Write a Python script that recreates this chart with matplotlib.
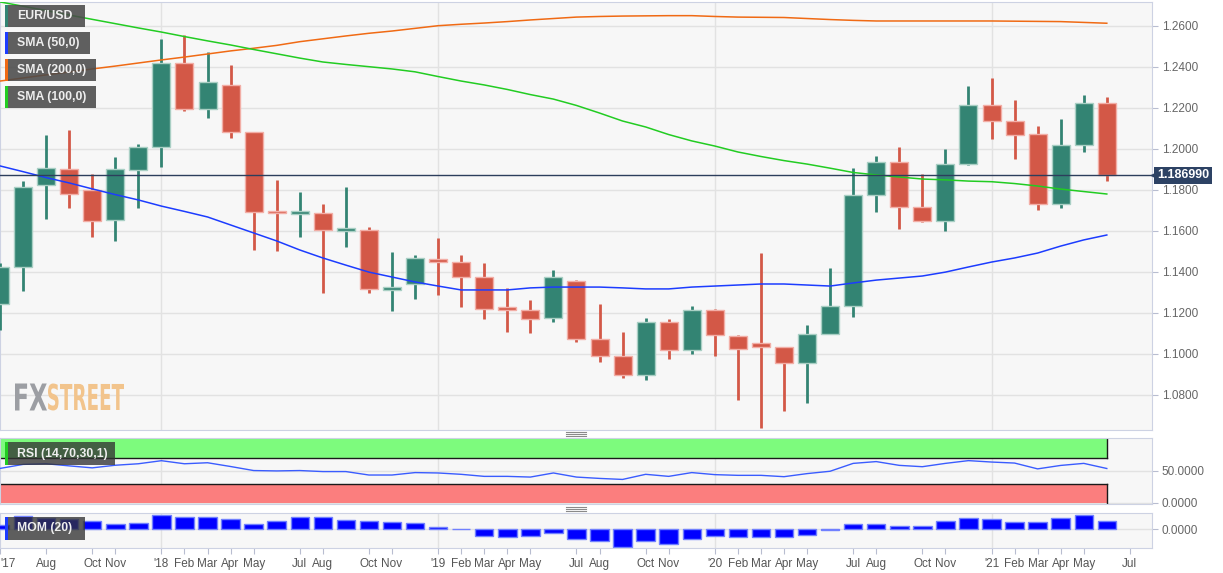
import matplotlib
matplotlib.use('Agg')
import matplotlib.pyplot as plt
from matplotlib.patches import Rectangle, PathPatch
from matplotlib.lines import Line2D
from matplotlib.textpath import TextPath
from matplotlib.font_manager import FontProperties
from matplotlib.transforms import Affine2D

plt.rcParams['font.family'] = ['Liberation Sans', 'DejaVu Sans']

# monthly EUR/USD, Jun 2017 .. Jun 2021
month_labels = ["'17", "", "Aug", "", "Oct", "Nov", "", "'18", "Feb", "Mar", "Apr", "May", "",
                "Jul", "Aug", "", "Oct", "Nov", "", "'19", "Feb", "Mar", "Apr", "May", "",
                "Jul", "Aug", "", "Oct", "Nov", "", "'20", "Feb", "Mar", "Apr", "May", "",
                "Jul", "Aug", "", "Oct", "Nov", "", "'21", "Feb", "Mar", "Apr", "May", "", "Jul"]

opens = [1.1241, 1.1421, 1.1823, 1.1901, 1.1799, 1.1651, 1.1898, 1.2010, 1.2416, 1.2192,
         1.2312, 1.2080, 1.1690, 1.1683, 1.1688, 1.1600, 1.1603, 1.1312, 1.1340, 1.1460,
         1.1446, 1.1373, 1.1219, 1.1213, 1.1173, 1.1356, 1.1070, 1.0989, 1.0898, 1.1155,
         1.1016, 1.1213, 1.1086, 1.1050, 1.1031, 1.0953, 1.1095, 1.1233, 1.1776, 1.1935,
         1.1717, 1.1646, 1.1925, 1.2215, 1.2137, 1.2073, 1.1730, 1.2018, 1.2225]
highs = [1.1441, 1.1843, 1.2067, 1.2091, 1.1877, 1.1960, 1.2023, 1.2535, 1.2554, 1.2470,
         1.2408, 1.2083, 1.1847, 1.1787, 1.1730, 1.1813, 1.1616, 1.1495, 1.1482, 1.1564,
         1.1482, 1.1441, 1.1320, 1.1262, 1.1408, 1.1359, 1.1243, 1.1106, 1.1176, 1.1170,
         1.1233, 1.1220, 1.1090, 1.1490, 1.1034, 1.1140, 1.1420, 1.1904, 1.1964, 1.2008,
         1.1877, 1.1999, 1.2306, 1.2345, 1.2238, 1.2111, 1.2145, 1.2262, 1.2252]
lows = [1.1116, 1.1307, 1.1657, 1.1712, 1.1571, 1.1551, 1.1712, 1.1912, 1.2185, 1.2151,
        1.2054, 1.1506, 1.1503, 1.1571, 1.1298, 1.1522, 1.1298, 1.1210, 1.1267, 1.1288,
        1.1229, 1.1169, 1.1106, 1.1103, 1.1155, 1.1059, 1.0961, 1.0883, 1.0872, 1.0974,
        1.0998, 1.0988, 1.0774, 1.0636, 1.0722, 1.0761, 1.1095, 1.1181, 1.1693, 1.1610,
        1.1640, 1.1600, 1.1922, 1.2049, 1.1950, 1.1701, 1.1712, 1.1986, 1.1842]
closes = [1.1425, 1.1815, 1.1904, 1.1777, 1.1647, 1.1899, 1.2010, 1.2416, 1.2192, 1.2324,
          1.2080, 1.1690, 1.1686, 1.1688, 1.1602, 1.1603, 1.1314, 1.1316, 1.1465, 1.1447,
          1.1373, 1.1216, 1.1215, 1.1168, 1.1373, 1.1070, 1.0989, 1.0898, 1.1155, 1.1016,
          1.1213, 1.1090, 1.1025, 1.1031, 1.0953, 1.1095, 1.1233, 1.1776, 1.1935, 1.1717,
          1.1646, 1.1925, 1.2215, 1.2135, 1.2065, 1.1730, 1.2018, 1.2225, 1.18699]

sma50 = [1.1916, 1.1888, 1.1859, 1.1833, 1.1804, 1.1776, 1.1750, 1.1720, 1.1694, 1.1667,
         1.1628, 1.1589, 1.1550, 1.1506, 1.1467, 1.1432, 1.1398, 1.1374, 1.1350, 1.1330,
         1.1311, 1.1311, 1.1311, 1.1321, 1.1325, 1.1325, 1.1325, 1.1321, 1.1316, 1.1316,
         1.1325, 1.1330, 1.1335, 1.1340, 1.1340, 1.1335, 1.1330, 1.1345, 1.1359, 1.1369,
         1.1379, 1.1398, 1.1423, 1.1447, 1.1467, 1.1491, 1.1525, 1.1555, 1.1579]
sma100 = [1.2716, 1.2695, 1.2674, 1.2652, 1.2631, 1.2610, 1.2589, 1.2569, 1.2547, 1.2526,
          1.2506, 1.2484, 1.2463, 1.2442, 1.2423, 1.2411, 1.2400, 1.2389, 1.2375, 1.2352,
          1.2330, 1.2311, 1.2289, 1.2264, 1.2242, 1.2211, 1.2174, 1.2135, 1.2106, 1.2069,
          1.2038, 1.2013, 1.1984, 1.1962, 1.1942, 1.1925, 1.1905, 1.1884, 1.1872, 1.1862,
          1.1852, 1.1848, 1.1842, 1.1839, 1.1830, 1.1818, 1.1803, 1.1791, 1.1779]
sma200 = [1.2330, 1.2345, 1.2360, 1.2374, 1.2389, 1.2403, 1.2418, 1.2433, 1.2447, 1.2462,
          1.2477, 1.2490, 1.2504, 1.2522, 1.2536, 1.2550, 1.2563, 1.2574, 1.2587, 1.2600,
          1.2607, 1.2613, 1.2620, 1.2628, 1.2635, 1.2642, 1.2645, 1.2647, 1.2648, 1.2649,
          1.2649, 1.2645, 1.2642, 1.2641, 1.2640, 1.2635, 1.2630, 1.2626, 1.2623, 1.2623,
          1.2623, 1.2623, 1.2623, 1.2623, 1.2622, 1.2621, 1.2620, 1.2616, 1.2612]

rsi = [54.0, 60.3, 61.3, 58.0, 54.9, 59.0, 61.3, 66.1, 61.3, 62.9,
       57.0, 50.7, 50.1, 50.7, 49.1, 49.1, 43.7, 43.7, 47.5, 46.9,
       44.8, 41.6, 41.6, 40.5, 46.9, 40.5, 38.4, 36.8, 44.8, 41.6,
       47.5, 44.3, 43.2, 43.2, 41.1, 45.9, 49.6, 61.9, 64.7, 58.8,
       56.7, 61.9, 66.2, 64.0, 62.4, 53.3, 58.7, 61.9, 53.9]

mom = [0.035, 0.124, 0.105, 0.098, 0.079, 0.051, 0.054, 0.130, 0.111, 0.114,
       0.092, 0.044, 0.073, 0.111, 0.108, 0.082, 0.076, 0.067, 0.054, 0.019,
       -0.003, -0.067, -0.076, -0.067, -0.032, -0.092, -0.108, -0.162, -0.108, -0.136,
       -0.092, -0.067, -0.073, -0.073, -0.073, -0.054, -0.006, 0.044, 0.048, 0.025,
       0.025, 0.073, 0.101, 0.098, 0.070, 0.067, 0.105, 0.133, 0.076]

price_ticks = [1.08, 1.10, 1.12, 1.14, 1.16, 1.18, 1.20, 1.22, 1.24, 1.26]
last_price = 1.186990

W, H = 1223, 573
fig = plt.figure(figsize=(W / 100, H / 100), dpi=100)
fig.patch.set_facecolor('white')


def fy(y):
    return 1 - y / H


GREEN, RED = '#338473', '#d35847'
GRID = '#e2e2e2'
SPINE = '#cdd2e3'
xmax = 49.96

ax = fig.add_axes([0, fy(430), 1152 / W, (430 - 2) / H])
ax_rsi = fig.add_axes([0, fy(504), 1152 / W, (504 - 437.6) / H])
ax_mom = fig.add_axes([0, fy(548), 1152 / W, (548 - 513) / H])

n = len(closes)
years = [i for i, s in enumerate(month_labels) if s.startswith("'") and i > 0]

for a in (ax, ax_rsi, ax_mom):
    a.set_facecolor('#f7f7f7')
    a.set_xlim(0, xmax)
    for s in a.spines.values():
        s.set_color(SPINE)
    for yi in years:
        a.axvline(yi, color=GRID, lw=1, zorder=0)
    a.yaxis.tick_right()
    a.tick_params(axis='y', length=4, color='#b8bdd0', labelsize=8.5, labelcolor='#666666', pad=3)
    a.grid(axis='y', color=GRID, lw=1, zorder=0)
    a.set_axisbelow(True)

# candles
for i in range(n):
    o, h, l, c = opens[i], highs[i], lows[i], closes[i]
    col = GREEN if c >= o else RED
    edge = '#a9cfc4' if c >= o else '#f2aea6'
    ax.vlines(i, l, h, color=col, lw=2.0, zorder=3)
    bot = min(o, c)
    hgt = max(abs(c - o), 0.0012)
    ax.add_patch(Rectangle((i - 0.39, bot), 0.78, hgt, facecolor=col, edgecolor=edge, lw=1, zorder=4))

xs = list(range(n))
ax.plot(xs, sma50, color='#1c3cff', lw=1.1, zorder=5)
ax.plot(xs, sma200, color='#f06a14', lw=1.1, zorder=5)
ax.plot(xs, sma100, color='#22cc22', lw=1.1, zorder=5)
ax.axhline(last_price, color='#2c3e5c', lw=1, zorder=6)

ax.set_ylim(1.06278, 1.27156)
ax.set_yticks(price_ticks)
ax.set_yticklabels([f'{v:.4f}' for v in price_ticks])
ax.tick_params(axis='x', bottom=False, labelbottom=False)

ytr = ax.get_yaxis_transform()
ax.text(1.0045, last_price, f'{last_price:.6f}', transform=ytr, ha='left', va='center',
        color='white', fontsize=9, fontweight='bold', zorder=10,
        bbox=dict(boxstyle='square,pad=0.22', fc='#2d4264', ec='none'), clip_on=False)
ax.plot([1.0018], [last_price], marker='<', ms=5, color='#2d4264', transform=ytr, clip_on=False, zorder=10)

# RSI panel
ax_rsi.add_patch(Rectangle((0, 70), n - 1, 30, facecolor='#7dfb7d', edgecolor='none', zorder=1))
ax_rsi.add_patch(Rectangle((0, 0), n - 1, 30, facecolor='#fb7e7e', edgecolor='none', zorder=1))
ax_rsi.plot([0, n - 1], [70, 70], color='#1a1a1a', lw=1, zorder=2)
ax_rsi.plot([0, n - 1], [30, 30], color='#1a1a1a', lw=1, zorder=2)
ax_rsi.plot([n - 1, n - 1], [70, 100], color='#1a1a1a', lw=1, zorder=2)
ax_rsi.plot([n - 1, n - 1], [0, 30], color='#1a1a1a', lw=1, zorder=2)
ax_rsi.plot(xs, rsi, color='#3a5cff', lw=1, zorder=3)
ax_rsi.set_ylim(-1.6, 102.2)
ax_rsi.set_yticks([0, 50])
ax_rsi.set_yticklabels(['0.0000', '50.0000'])
ax_rsi.tick_params(axis='x', bottom=False, labelbottom=False)

# MOM panel
ax_mom.bar(xs, mom, width=0.8, color='#0000ff', edgecolor='#7080ff', lw=1, zorder=3)
ax_mom.set_ylim(-0.174, 0.149)
ax_mom.set_yticks([0])
ax_mom.set_yticklabels(['0.0000'])
tick_pos = [i for i, s in enumerate(month_labels) if s]
ax_mom.set_xticks(tick_pos)
ax_mom.set_xticklabels([month_labels[i] for i in tick_pos])
ax_mom.tick_params(axis='x', length=4, color='#b8bdd0', labelsize=8.5, labelcolor='#555555', pad=3)
ax_mom.get_xticklabels()[0].set_ha('left')


# legend boxes
def label_box(x0, y0, x1, y1, strip, text, fc='#4a4a4a', alpha=0.88):
    fig.add_artist(Rectangle((x0 / W, fy(y1)), (x1 - x0) / W, (y1 - y0) / H,
                             transform=fig.transFigure, facecolor=fc, alpha=alpha, edgecolor='none', zorder=20))
    fig.add_artist(Rectangle((x0 / W, fy(y1)), 3 / W, (y1 - y0) / H,
                             transform=fig.transFigure, facecolor=strip, edgecolor='none', zorder=21))
    fig.text(17 / W, fy((y0 + y1) / 2), text, color='#eeeeee', fontsize=8.8, fontweight='bold',
             ha='left', va='center', zorder=22)


label_box(5, 5, 85, 27, GREEN, 'EUR/USD')
label_box(5, 32, 90, 54, '#1c3cff', 'SMA (50,0)')
label_box(5, 59, 96, 81, '#f06a14', 'SMA (200,0)')
label_box(5, 86, 96, 108, '#22cc22', 'SMA (100,0)')
label_box(5, 442, 115, 465, '#22cc22', 'RSI (14,70,30,1)', fc='#333333', alpha=0.78)
label_box(5, 517, 85, 540, '#1c3cff', 'MOM (20)', fc='#333333', alpha=0.78)

# panel handles
for yc in (434, 508.5):
    for dy in (-2, 0, 2):
        fig.add_artist(Line2D([566 / W, 586 / W], [fy(yc + dy)] * 2, transform=fig.transFigure,
                              color='#8a8a8a', lw=0.8))

# watermark
fp = FontProperties(family='DejaVu Sans', weight='bold')
for txt, x0, x1, col in (('FX', 15, 47, '#9c9ea3'), ('STREET', 48, 124, '#f2c48c')):
    tp = TextPath((0, 0), txt, size=1, prop=fp)
    ext = tp.get_extents()
    tr = Affine2D().translate(-ext.x0, -ext.y0).scale((x1 - x0) / ext.width, 27 / ext.height) \
        .translate(x0, H - 410.5)
    fig.add_artist(PathPatch(tp, transform=tr, facecolor=col, edgecolor='none', zorder=2))

fig.savefig('out.png', dpi=100, facecolor='white')
